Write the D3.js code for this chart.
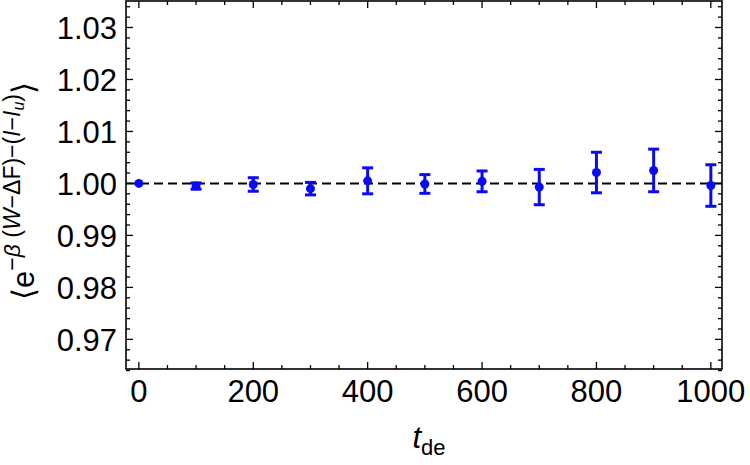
<!DOCTYPE html>
<html>
<head>
<meta charset="utf-8">
<script src="https://cdn.jsdelivr.net/npm/d3@7"></script>
<style>
    body { margin: 0; background: #fff; }
    text { font-family: "Liberation Sans", Arial, sans-serif; fill: #000; }
</style>
</head>
<body>
<script>
    // data
    const tValues = [0, 100, 200, 300, 400, 500, 600, 700, 800, 900, 1000];
    const meanValues = [1.0000, 0.9995, 0.9998, 0.9990, 1.0005, 0.9999, 1.0004, 0.9993, 1.0021, 1.0025, 0.9996];
    const errValues = [0.0001, 0.0006, 0.0013, 0.0012, 0.0025, 0.0018, 0.0020, 0.0034, 0.0039, 0.0041, 0.0040];
    const xMajorTicks = [0, 200, 400, 600, 800, 1000];
    const yMajorTicks = [0.97, 0.98, 0.99, 1.00, 1.01, 1.02, 1.03];
    const refLine = 1.0;

    const width = 750, height = 465;
    const frame = { left: 126, right: 722, top: 1, bottom: 369 };

    const svg = d3.select("body").append("svg")
        .attr("width", width).attr("height", height);

    const x = d3.scaleLinear().domain([-22.5, 1019.5]).range([frame.left, frame.right]);
    const y = d3.scaleLinear().domain([0.9643, 1.0351]).range([frame.bottom, frame.top]);

    const xMinor = d3.range(0, 1001, 50).filter(v => v % 200 !== 0);
    const yMinor = d3.range(0, 36).map(i => +(0.964 + i * 0.002).toFixed(3))
        .filter(v => v <= 1.0351 && Math.abs(v * 100 - Math.round(v * 100)) > 1e-6);

    const g = svg.append("g");

    // ticks (pointing inward, all four sides)
    const tickG = g.append("g").attr("stroke", "#000").attr("stroke-width", 1.3);
    const addXTicks = (vals, len) => {
        vals.forEach(v => {
            tickG.append("line").attr("x1", x(v)).attr("x2", x(v))
                .attr("y1", frame.bottom).attr("y2", frame.bottom - len);
            tickG.append("line").attr("x1", x(v)).attr("x2", x(v))
                .attr("y1", frame.top).attr("y2", frame.top + len);
        });
    };
    const addYTicks = (vals, len) => {
        vals.forEach(v => {
            tickG.append("line").attr("y1", y(v)).attr("y2", y(v))
                .attr("x1", frame.left).attr("x2", frame.left + len);
            tickG.append("line").attr("y1", y(v)).attr("y2", y(v))
                .attr("x1", frame.right).attr("x2", frame.right - len);
        });
    };
    addXTicks(xMajorTicks, 7);
    addXTicks(xMinor, 4);
    addYTicks(yMajorTicks, 7);
    addYTicks(yMinor, 4);

    // frame
    g.append("rect")
        .attr("x", frame.left).attr("y", frame.top)
        .attr("width", frame.right - frame.left).attr("height", frame.bottom - frame.top)
        .attr("fill", "none").attr("stroke", "#000").attr("stroke-width", 1.6);

    // tick labels
    g.selectAll(".xlab").data(xMajorTicks).enter().append("text")
        .attr("class", "xlab")
        .attr("x", d => x(d)).attr("y", 402)
        .attr("text-anchor", "middle").attr("font-size", 31)
        .text(d => d);

    g.selectAll(".ylab").data(yMajorTicks).enter().append("text")
        .attr("class", "ylab")
        .attr("x", 117).attr("y", d => y(d))
        .attr("dy", "0.36em")
        .attr("text-anchor", "end").attr("font-size", 31)
        .text(d => d3.format(".2f")(d));

    // dashed reference line
    g.append("line")
        .attr("x1", frame.left).attr("x2", frame.right)
        .attr("y1", y(refLine)).attr("y2", y(refLine))
        .attr("stroke", "#000").attr("stroke-width", 2)
        .attr("stroke-dasharray", "9,5");

    // error bars
    const pts = tValues.map((t, i) => ({ t: t, m: meanValues[i], e: errValues[i] }));
    const bars = g.append("g").attr("stroke", "#0a0af5").attr("stroke-width", 3);
    pts.forEach(d => {
        if (y(d.m - d.e) - y(d.m + d.e) < 3) return;
        bars.append("line").attr("x1", x(d.t)).attr("x2", x(d.t))
            .attr("y1", y(d.m - d.e)).attr("y2", y(d.m + d.e));
        [d.m - d.e, d.m + d.e].forEach(v => {
            bars.append("line").attr("x1", x(d.t) - 5.5).attr("x2", x(d.t) + 5.5)
                .attr("y1", y(v)).attr("y2", y(v));
        });
    });

    // points
    g.selectAll(".pt").data(pts).enter().append("circle")
        .attr("class", "pt")
        .attr("cx", d => x(d.t)).attr("cy", d => y(d.m))
        .attr("r", 4.5).attr("fill", "#0a0af5");

    // x axis title
    const xt = svg.append("text")
        .attr("x", 429).attr("y", 448)
        .attr("text-anchor", "middle");
    xt.append("tspan").attr("font-size", 31).attr("font-style", "italic").text("t");
    xt.append("tspan").attr("font-size", 22).attr("dy", 7).text("de");

    // y axis title
    const yt = svg.append("text")
        .attr("transform", "translate(34,191) rotate(-90)")
        .attr("text-anchor", "middle");
    yt.append("tspan").attr("font-size", 31).text("⟨e");
    const ex = yt.append("tspan").attr("font-size", 23).attr("dy", -14);
    ex.append("tspan").text("−");
    ex.append("tspan").attr("font-style", "italic").text("β");
    ex.append("tspan").text(" (");
    ex.append("tspan").attr("font-style", "italic").text("W");
    ex.append("tspan").text("−ΔF)−(");
    ex.append("tspan").attr("font-style", "italic").text("I");
    ex.append("tspan").text("−");
    ex.append("tspan").attr("font-style", "italic").text("I");
    yt.append("tspan").attr("font-size", 16).attr("font-style", "italic").attr("dy", 4).text("u");
    yt.append("tspan").attr("font-size", 23).attr("dy", -4).text(")");
    yt.append("tspan").attr("font-size", 31).attr("dy", 14).text("⟩");
</script>
</body>
</html>
